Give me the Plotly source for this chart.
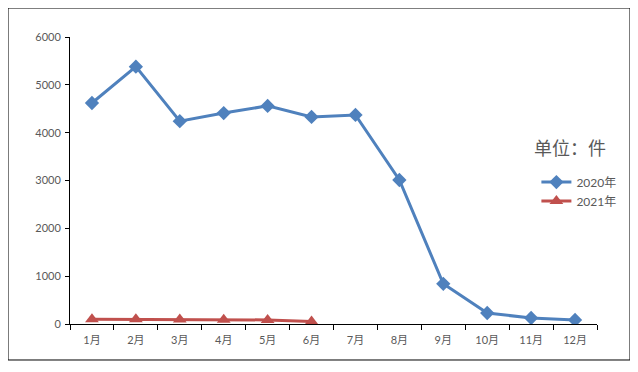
import plotly.graph_objects as go

months = ["1月", "2月", "3月", "4月", "5月", "6月", "7月", "8月", "9月", "10月", "11月", "12月"]
values_2020 = [4620, 5380, 4240, 4410, 4560, 4330, 4370, 3010, 840, 230, 125, 85]
months_2021 = ["1月", "2月", "3月", "4月", "5月", "6月"]
values_2021 = [100, 100, 95, 90, 85, 50]
y_ticks = [0, 1000, 2000, 3000, 4000, 5000, 6000]

FONT = "Lato, Noto Sans CJK SC, sans-serif"
GRAY = "#595959"

fig = go.Figure()
fig.add_trace(go.Scatter(
    x=months, y=values_2020, name="2020年", mode="lines+markers",
    line=dict(color="#4F81BD", width=3),
    marker=dict(symbol="diamond", size=11, color="#4F81BD"),
))
fig.add_trace(go.Scatter(
    x=months_2021, y=values_2021, name="2021年", mode="lines+markers",
    line=dict(color="#C0504D", width=3),
    marker=dict(symbol="triangle-up", size=12, color="#C0504D"),
))

fig.update_layout(
    width=630, height=364,
    margin=dict(l=62, r=41, t=29, b=48),
    paper_bgcolor="white", plot_bgcolor="white",
    font=dict(family=FONT, size=11, color=GRAY),
    showlegend=True,
    legend=dict(x=0.885, y=0.545, xanchor="left", yanchor="top",
                font=dict(size=12, color=GRAY), bgcolor="rgba(0,0,0,0)",
                itemwidth=30),
    xaxis=dict(type="category", categoryorder="array", categoryarray=months,
               showline=True, linecolor="black", linewidth=1,
               ticks="outside", tickson="boundaries", ticklen=5, tickcolor="black",
               showgrid=False, zeroline=False, range=[-0.5, 11.5],
               ticklabelstandoff=6,
               tickfont=dict(size=11, color=GRAY)),
    yaxis=dict(range=[0, 6000], tickvals=y_ticks, showline=True, linecolor="black",
               linewidth=1, ticks="outside", ticklen=4, tickcolor="black",
               showgrid=False, zeroline=False, ticklabelstandoff=2,
               tickfont=dict(size=11, color=GRAY)),
    annotations=[dict(text="单位：件", x=0.949, y=0.613, xref="paper", yref="paper",
                      xanchor="center", yanchor="middle",
                      showarrow=False, font=dict(size=18, color=GRAY, family=FONT))],
    shapes=[dict(type="rect", xref="paper", yref="paper",
                 x0=-0.1176, x1=1.0626, y0=-0.1254, y1=1.101,
                 line=dict(color="black", width=1), fillcolor="rgba(0,0,0,0)")],
)

fig.write_html("out.html")
